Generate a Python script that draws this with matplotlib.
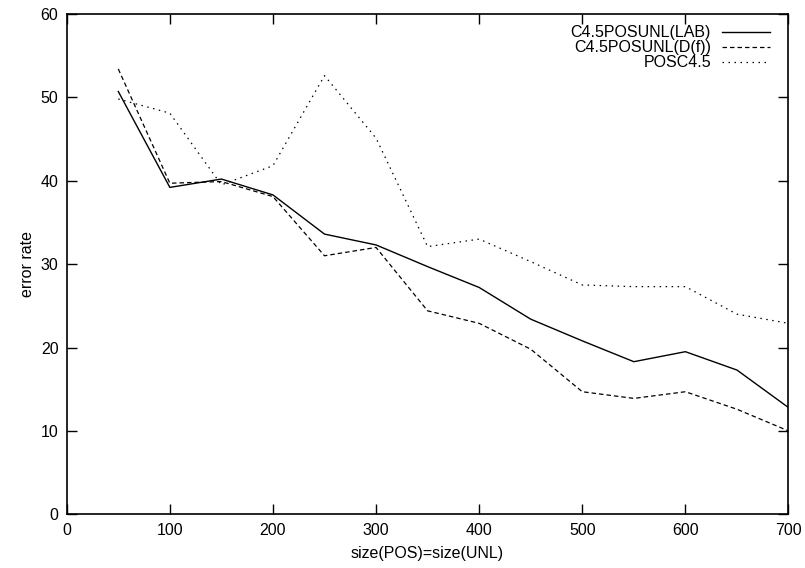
import numpy as np
import matplotlib.pyplot as plt

plt.rcParams['font.family'] = ['Liberation Sans', 'DejaVu Sans']

sizes = [50, 100, 150, 200, 250, 300, 350, 400, 450, 500, 550, 600, 650, 700]
err_lab = [50.7, 39.2, 40.2, 38.3, 33.6, 32.3, 29.7, 27.2, 23.4, 20.8, 18.3, 19.5, 17.3, 12.8]
err_df = [53.4, 39.7, 39.9, 38.1, 31.0, 32.0, 24.4, 22.9, 19.8, 14.7, 13.9, 14.7, 12.6, 10.0]
err_pos = [49.8, 48.1, 39.5, 41.8, 52.6, 45.1, 32.1, 33.0, 30.3, 27.5, 27.3, 27.3, 24.0, 22.9]

fig = plt.figure(figsize=(8.05, 5.68), dpi=100)
ax = fig.add_axes([0.0829, 0.0945, 0.8966, 0.881])

ax.plot(sizes, err_lab, color='black', linewidth=1.0, label='C4.5POSUNL(LAB)')
ax.plot(sizes, err_df, color='black', linewidth=0.9, dashes=(3.6, 2.4), label='C4.5POSUNL(D(f))')
ax.plot(sizes, err_pos, color='black', linewidth=0.9, dashes=(1.2, 3.6), label='POSC4.5')

ax.set_xlim(0, 700)
ax.set_ylim(0, 60)
ax.set_xticks(range(0, 701, 100))
ax.set_yticks(range(0, 61, 10))
ax.tick_params(direction='in', length=7, width=1, top=True, right=True,
               labelsize=11.5, pad=6)
for s in ax.spines.values():
    s.set_linewidth(1.2)

ax.set_xlabel('size(POS)=size(UNL)', fontsize=11.5, labelpad=6)
ax.set_ylabel('error rate', fontsize=11.5, labelpad=4)

ax.legend(loc='upper right', bbox_to_anchor=(0.99, 1.0), frameon=False,
          markerfirst=False, fontsize=11.5, handlelength=3.0, labelspacing=0.0,
          borderaxespad=0.4, handletextpad=0.7, borderpad=0.3)

fig.savefig('out.png', dpi=100)
